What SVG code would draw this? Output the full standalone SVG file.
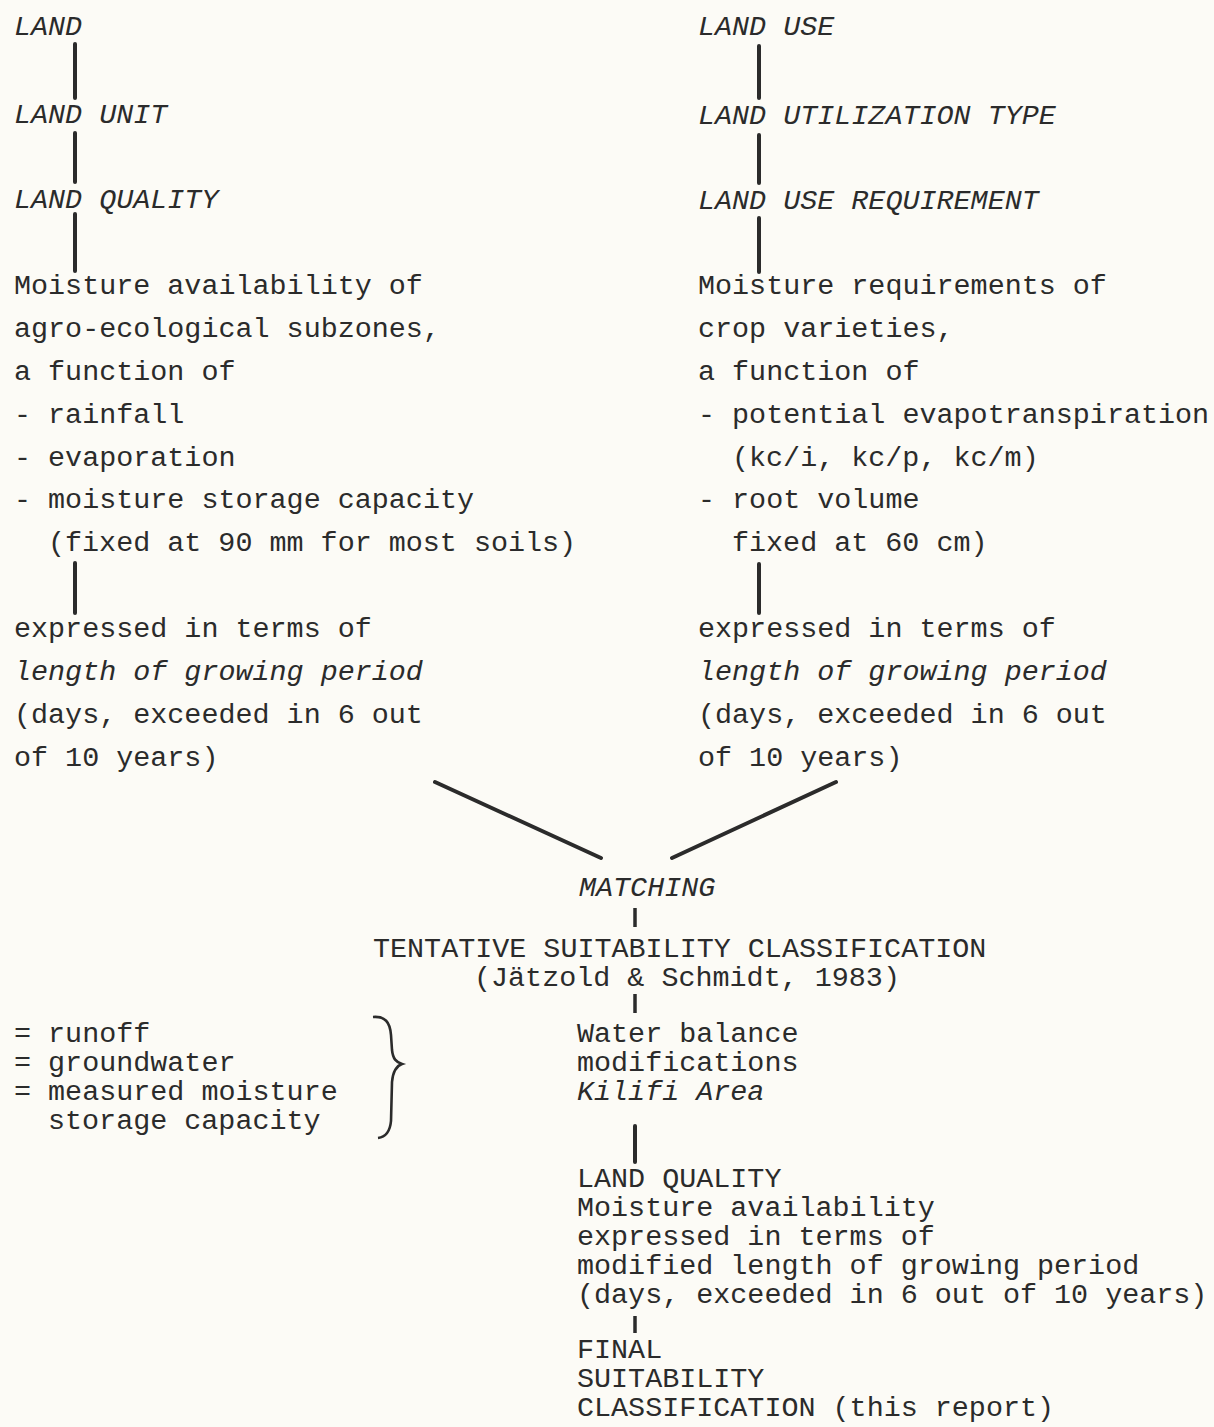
<svg xmlns="http://www.w3.org/2000/svg" width="1214" height="1427" viewBox="0 0 1214 1427">
<style>
text{font-family:"Liberation Mono","Courier New",monospace;font-size:28.4px;fill:#2b2b2b}
.i{font-style:italic}
.ln{stroke:#2b2b2b;stroke-width:4;stroke-linecap:round;fill:none}
.tk{stroke:#2b2b2b;stroke-width:3.5;fill:none}
</style>
<rect width="1214" height="1427" fill="#fcfbf6"/>
<g id="connectors">
<line class="ln" x1="75" y1="44" x2="75" y2="98"/>
<line class="ln" x1="75" y1="133" x2="75" y2="182"/>
<line class="ln" x1="75" y1="214" x2="75" y2="271"/>
<line class="ln" x1="75" y1="563" x2="75" y2="613"/>
<line class="ln" x1="759" y1="46" x2="759" y2="98"/>
<line class="ln" x1="759" y1="135" x2="759" y2="183"/>
<line class="ln" x1="759" y1="218" x2="759" y2="272"/>
<line class="ln" x1="759" y1="564" x2="759" y2="613"/>
<line class="ln" x1="435" y1="782" x2="601" y2="858"/>
<line class="ln" x1="836" y1="782" x2="672" y2="858"/>
<line class="tk" x1="635" y1="908" x2="635" y2="927"/>
<line class="tk" x1="635" y1="994" x2="635" y2="1013"/>
<line class="ln" x1="635" y1="1126" x2="635" y2="1162"/>
<line class="tk" x1="635" y1="1316" x2="635" y2="1333"/>
<path d="M373,1017 C385,1016 390,1022 391,1035 L392,1050 C393,1059 396,1062 402,1064 C396,1066 393,1071 392,1082 L391,1121 C390,1132 386,1137 378,1138" fill="none" stroke="#2b2b2b" stroke-width="2.6"/>
</g>
<g id="land">
<text class="i" x="14" y="35">LAND</text>
<text class="i" x="14" y="123">LAND UNIT</text>
<text class="i" x="14" y="208">LAND QUALITY</text>
</g>
<g id="moisture-availability">
<text x="14" y="294">Moisture availability of</text>
<text x="14" y="337">agro-ecological subzones,</text>
<text x="14" y="380">a function of</text>
<text x="14" y="423">- rainfall</text>
<text x="14" y="466">- evaporation</text>
<text x="14" y="508">- moisture storage capacity</text>
<text x="48" y="551">(fixed at 90 mm for most soils)</text>
</g>
<g id="left-lgp">
<text x="14" y="637">expressed in terms of</text>
<text class="i" x="14" y="680">length of growing period</text>
<text x="14" y="723">(days, exceeded in 6 out</text>
<text x="14" y="766">of 10 years)</text>
</g>
<g id="land-use">
<text class="i" x="698" y="35">LAND USE</text>
<text class="i" x="698" y="124">LAND UTILIZATION TYPE</text>
<text class="i" x="698" y="209">LAND USE REQUIREMENT</text>
</g>
<g id="moisture-requirements">
<text x="698" y="294">Moisture requirements of</text>
<text x="698" y="337">crop varieties,</text>
<text x="698" y="380">a function of</text>
<text x="698" y="423">- potential evapotranspiration</text>
<text x="732" y="466">(kc/i, kc/p, kc/m)</text>
<text x="698" y="508">- root volume</text>
<text x="732" y="551">fixed at 60 cm)</text>
</g>
<g id="right-lgp">
<text x="698" y="637">expressed in terms of</text>
<text class="i" x="698" y="680">length of growing period</text>
<text x="698" y="723">(days, exceeded in 6 out</text>
<text x="698" y="766">of 10 years)</text>
</g>
<g id="matching">
<text class="i" x="579" y="896">MATCHING</text>
</g>
<g id="tentative">
<text x="373" y="957">TENTATIVE SUITABILITY CLASSIFICATION</text>
<text x="474" y="986">(Jätzold &amp; Schmidt, 1983)</text>
</g>
<g id="modifiers">
<text x="14" y="1042">= runoff</text>
<text x="14" y="1071">= groundwater</text>
<text x="14" y="1100">= measured moisture</text>
<text x="48" y="1129">storage capacity</text>
</g>
<g id="water-balance">
<text x="577" y="1042">Water balance</text>
<text x="577" y="1071">modifications</text>
<text class="i" x="577" y="1100">Kilifi Area</text>
</g>
<g id="land-quality-modified">
<text x="577" y="1187">LAND QUALITY</text>
<text x="577" y="1216">Moisture availability</text>
<text x="577" y="1245">expressed in terms of</text>
<text x="577" y="1274">modified length of growing period</text>
<text x="577" y="1303">(days, exceeded in 6 out of 10 years)</text>
</g>
<g id="final">
<text x="577" y="1358">FINAL</text>
<text x="577" y="1387">SUITABILITY</text>
<text x="577" y="1416">CLASSIFICATION (this report)</text>
</g>
</svg>
